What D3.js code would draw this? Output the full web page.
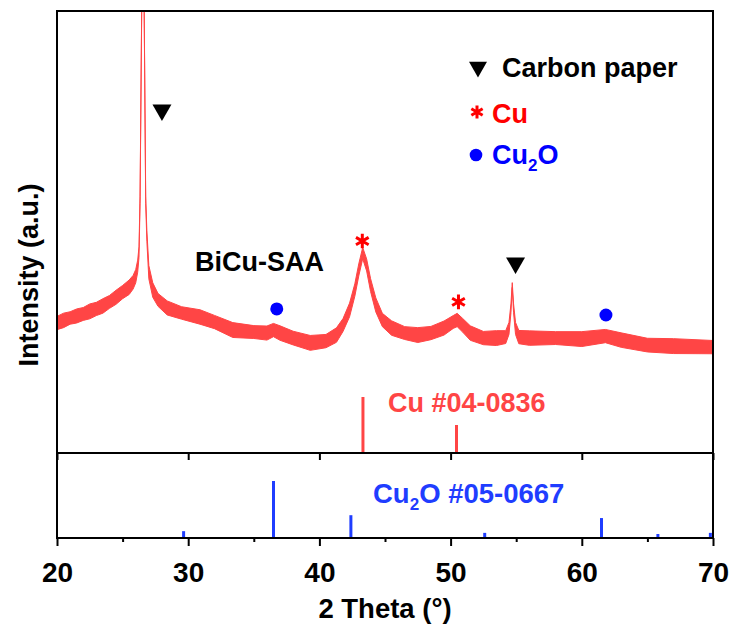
<!DOCTYPE html>
<html><head><meta charset="utf-8">
<script src="https://cdn.jsdelivr.net/npm/d3@7"></script>
<style>
body{margin:0;background:#fff}
svg{display:block}
text{font-family:"Liberation Sans",Arial,sans-serif;font-weight:bold}
</style>
</head><body>
<svg id="c" width="732" height="632"></svg>
<script>
// BiCu-SAA XRD pattern: mean intensity and noise spread along 2θ
const twoTheta = [20.0,20.5,21.0,21.5,22.0,22.5,23.0,23.5,24.0,24.5,25.0,25.5,25.8,26.0,26.15,26.25,26.33,26.455,26.55,26.646,26.76,26.85,27.0,27.3,27.7,28.4,29.5,30.9,32.0,33.4,35.0,36.0,36.5,37.0,38.0,39.3,40.5,41.3,41.8,42.3,42.7,43.0,43.3,43.6,43.9,44.3,44.8,45.5,46.5,47.5,48.5,49.5,50.2,50.5,50.9,51.5,52.5,53.5,54.2,54.45,54.6,54.7,54.8,54.95,55.2,56.0,58.0,60.0,61.8,63.0,65.0,67.0,70.0];
const intensity = [647,660,672,682,692,705,717,732,752,775,801,825,850,880,930,1000,1260,2200,3500,2200,1260,1080,900,811,762,722,697,677,652,612,602,597,612,597,572,548,557,587,637,712,811,911,995,936,836,737,662,622,597,587,597,622,652,662,637,597,572,572,577,620,720,836,720,620,577,572,572,567,582,562,537,532,527];
const spread = [33,36,31,35,32,37,33,36,32,35,33,36,34,33,30,26,18,8,0,8,18,26,33,36,32,35,31,36,33,37,32,35,33,36,34,37,33,36,32,34,31,30,28,30,32,35,33,36,32,37,33,35,32,33,34,36,33,37,32,30,22,12,22,30,33,36,32,37,33,36,34,37,33];

// standard reference patterns (relative intensity)
const cuRefPos = [43.32, 50.45];
const cuRefInt = [100, 50];
const cu2oRefPos = [29.65, 36.5, 42.4, 52.6, 61.5, 65.8, 69.8];
const cu2oRefInt = [12, 100, 40, 9, 35, 7, 9];

// peak markers
const carbonPos = [28.0, 54.95], carbonInt = [1707, 946];
const cuPos = [43.27, 50.6], cuInt = [1055, 752];
const cu2oPos = [36.75, 61.84], cu2oInt = [717, 687];

const xMajor = [20, 30, 40, 50, 60, 70];
const xMinor = [25, 35, 45, 55, 65];

const L = 57, R = 713, T = 11, M = 453, B = 538;
const svg = d3.select('#c');
const x = d3.scaleLinear().domain([20, 70]).range([L, R]);
const y = d3.scaleLinear().domain([0, 2200]).range([M, T]);
const yCu = d3.scaleLinear().domain([0, 100]).range([M, M - 56]);
const yCu2o = d3.scaleLinear().domain([0, 100]).range([B, B - 57]);

svg.append('defs').append('clipPath').attr('id', 'top')
  .append('rect').attr('x', L).attr('y', T).attr('width', R - L).attr('height', M - T);

const pts = twoTheta.map((t, i) => ({t, v: intensity[i], s: spread[i]}));
const band = d3.area().x(d => x(d.t)).y0(d => y(d.v - d.s)).y1(d => y(d.v + d.s));
const red = '#ff4545';
svg.append('path').datum(pts).attr('clip-path', 'url(#top)')
  .attr('d', band).attr('fill', red).attr('stroke', red).attr('stroke-width', 1);

// reference sticks
svg.selectAll('.cu').data(cuRefPos).join('line')
  .attr('x1', d => x(d)).attr('x2', d => x(d))
  .attr('y1', yCu(0)).attr('y2', (d, i) => yCu(cuRefInt[i]))
  .attr('stroke', red).attr('stroke-width', 3);
const blue = '#1f3dff';
svg.selectAll('.cu2o').data(cu2oRefPos).join('line')
  .attr('x1', d => x(d)).attr('x2', d => x(d))
  .attr('y1', yCu2o(0)).attr('y2', (d, i) => yCu2o(cu2oRefInt[i]))
  .attr('stroke', blue).attr('stroke-width', 3);

// markers
const tri = d3.symbol().type(d3.symbolTriangle).size(156);
carbonPos.forEach((p, i) => svg.append('path').attr('d', tri)
  .attr('transform', `translate(${x(p)},${y(carbonInt[i])}) rotate(180)`).attr('fill', '#000'));
const star = d3.symbol().type(d3.symbolAsterisk).size(150);
cuPos.forEach((p, i) => svg.append('path').attr('d', star)
  .attr('transform', `translate(${x(p)},${y(cuInt[i])})`).attr('fill', 'none').attr('stroke', '#ff0000').attr('stroke-width', 3));
cu2oPos.forEach((p, i) => svg.append('circle').attr('cx', x(p)).attr('cy', y(cu2oInt[i])).attr('r', 6.5).attr('fill', '#0000ff'));

// axes
const gB = svg.append('g').attr('transform', `translate(0,${B})`)
  .call(d3.axisBottom(x).tickValues(xMajor).tickSize(8).tickPadding(16).tickFormat(d3.format('d')));
svg.append('g').attr('transform', `translate(0,${B})`)
  .call(d3.axisBottom(x).tickValues(xMinor).tickSize(4).tickFormat(''));
svg.append('g').attr('transform', `translate(0,${M})`)
  .call(d3.axisBottom(x).tickValues(xMajor).tickSize(7).tickFormat(''));
svg.selectAll('.domain').remove();
svg.selectAll('.tick line').attr('stroke', '#000').attr('stroke-width', 2);
gB.selectAll('text').attr('font-size', 28).attr('fill', '#000')
  .attr('font-family', '"Liberation Sans",Arial,sans-serif').attr('font-weight', 'bold');

// frame
const frame = svg.append('g').attr('stroke', '#000').attr('stroke-width', 2).attr('fill', 'none');
frame.append('rect').attr('x', L).attr('y', T).attr('width', R - L).attr('height', B - T);
frame.append('line').attr('x1', L).attr('x2', R).attr('y1', M).attr('y2', M);

// labels
svg.append('text').attr('x', (L + R) / 2).attr('y', 618).attr('text-anchor', 'middle')
  .attr('font-size', 27.5).text('2 Theta (°)');
svg.append('text').attr('transform', 'translate(38,275) rotate(-90)').attr('text-anchor', 'middle')
  .attr('font-size', 27).text('Intensity (a.u.)');
svg.append('text').attr('x', 195).attr('y', 271).attr('font-size', 27).attr('fill', '#000').text('BiCu-SAA');
svg.append('text').attr('x', 388).attr('y', 412).attr('font-size', 27).attr('fill', red).text('Cu #04-0836');
const c2 = svg.append('text').attr('x', 373).attr('y', 503).attr('font-size', 27.5).attr('fill', blue);
c2.append('tspan').text('Cu');
c2.append('tspan').attr('font-size', 17).attr('dy', 7).text('2');
c2.append('tspan').attr('dy', -7).text('O #05-0667');

// legend
svg.append('path').attr('d', d3.symbol().type(d3.symbolTriangle).size(140))
  .attr('transform', 'translate(478,67) rotate(180)').attr('fill', '#000');
svg.append('text').attr('x', 502).attr('y', 77).attr('font-size', 27).attr('fill', '#000').text('Carbon paper');
svg.append('path').attr('d', d3.symbol().type(d3.symbolAsterisk).size(120))
  .attr('transform', 'translate(477,112)').attr('fill', 'none').attr('stroke', '#ff0000').attr('stroke-width', 3);
svg.append('text').attr('x', 492).attr('y', 123).attr('font-size', 27).attr('fill', '#ff0000').text('Cu');
svg.append('circle').attr('cx', 476).attr('cy', 155).attr('r', 6.3).attr('fill', '#0000ff');
const lg = svg.append('text').attr('x', 492).attr('y', 164).attr('font-size', 27).attr('fill', '#0000ff');
lg.append('tspan').text('Cu');
lg.append('tspan').attr('font-size', 17).attr('dy', 7).text('2');
lg.append('tspan').attr('dy', -7).text('O');
</script>
</body></html>
